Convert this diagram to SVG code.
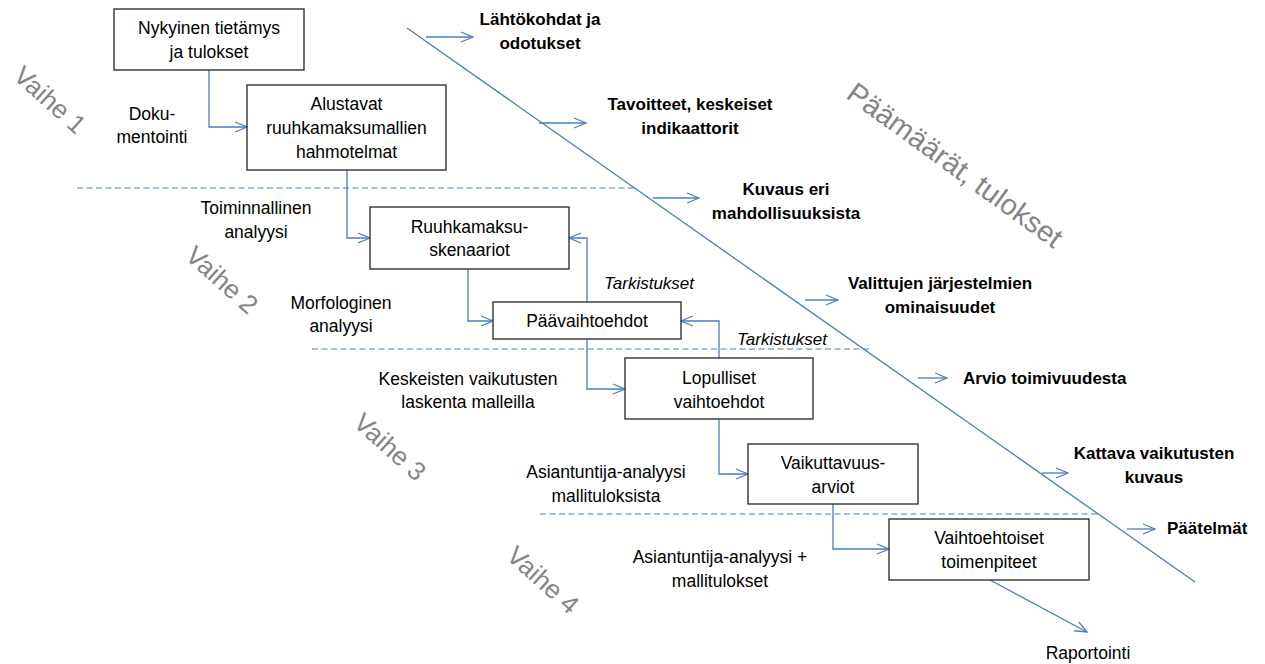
<svg xmlns="http://www.w3.org/2000/svg" width="1265" height="664" viewBox="0 0 1265 664">
<style>
text{font-family:"Liberation Sans",Arial,sans-serif;fill:#000;dominant-baseline:central}
.t{font-size:17.5px;text-anchor:middle}
.b{font-size:17px;font-weight:bold;text-anchor:middle}
.i{font-size:17px;font-style:italic;text-anchor:middle}
.ph{font-size:26px;fill:#858585;text-anchor:middle}
.box{fill:#fff;stroke:#333;stroke-width:1.4}
.c{fill:none;stroke:#4a7ebb;stroke-width:1.3}
.d{fill:none;stroke:#4a7ebb;stroke-width:1.2;stroke-dasharray:6 3.5}
</style>
<defs>
<marker id="ah" viewBox="0 0 14 12" refX="13" refY="6" markerWidth="14" markerHeight="12" markerUnits="userSpaceOnUse" orient="auto">
<path d="M1,1 L13,6 L1,11" fill="none" stroke="#4a7ebb" stroke-width="1.3"/>
</marker>
</defs>
<rect width="1265" height="664" fill="#fff"/>

<g id="phases">
<text class="ph" transform="translate(50,100) rotate(42)">Vaihe 1</text>
<text class="ph" transform="translate(222,280) rotate(42)">Vaihe 2</text>
<text class="ph" transform="translate(390,447) rotate(42)">Vaihe 3</text>
<text class="ph" transform="translate(543,580) rotate(42)">Vaihe 4</text>
<text class="ph" style="font-size:29px" transform="translate(955,165) rotate(36)">Päämäärät, tulokset</text>
</g>

<g id="separators">
<line class="d" x1="77" y1="188" x2="637" y2="188"/>
<line class="d" x1="312" y1="349" x2="870" y2="349"/>
<line class="d" x1="540" y1="514" x2="1097" y2="514"/>
</g>

<g id="connectors">
<line class="c" x1="407" y1="28" x2="1195" y2="582"/>
<line class="c" x1="426" y1="37" x2="473" y2="37" marker-end="url(#ah)"/>
<line class="c" x1="539" y1="123" x2="586" y2="123" marker-end="url(#ah)"/>
<line class="c" x1="653" y1="198" x2="699" y2="198" marker-end="url(#ah)"/>
<line class="c" x1="805" y1="300" x2="838" y2="300" marker-end="url(#ah)"/>
<line class="c" x1="918" y1="378" x2="947" y2="378" marker-end="url(#ah)"/>
<line class="c" x1="1042" y1="473" x2="1068" y2="473" marker-end="url(#ah)"/>
<line class="c" x1="1127" y1="529" x2="1155" y2="529" marker-end="url(#ah)"/>
<path class="c" d="M209,70 V127 H247" marker-end="url(#ah)"/>
<path class="c" d="M347,170 V238 H370" marker-end="url(#ah)"/>
<path class="c" d="M468,269 V321 H493" marker-end="url(#ah)"/>
<path class="c" d="M587,302 V238 H569" marker-end="url(#ah)"/>
<path class="c" d="M587,339 V389 H625" marker-end="url(#ah)"/>
<path class="c" d="M719,358 V321 H681" marker-end="url(#ah)"/>
<path class="c" d="M719,419 V474 H748" marker-end="url(#ah)"/>
<path class="c" d="M833,504 V549 H889" marker-end="url(#ah)"/>
<path class="c" d="M990,580 L1087,632" marker-end="url(#ah)"/>
</g>

<g id="n1"><rect class="box" x="114" y="9" width="190" height="61"/>
<text class="t" x="209" y="28">Nykyinen tietämys</text><text class="t" x="209" y="52">ja tulokset</text></g>
<g id="n2"><rect class="box" x="247" y="85" width="199" height="85"/>
<text class="t" x="346.5" y="104">Alustavat</text><text class="t" x="346.5" y="128">ruuhkamaksumallien</text><text class="t" x="346.5" y="152">hahmotelmat</text></g>
<g id="n3"><rect class="box" x="370" y="207" width="199" height="62"/>
<text class="t" x="469.5" y="227">Ruuhkamaksu-</text><text class="t" x="469.5" y="250">skenaariot</text></g>
<g id="n4"><rect class="box" x="493" y="302" width="188" height="37"/>
<text class="t" x="587" y="321">Päävaihtoehdot</text></g>
<g id="n5"><rect class="box" x="625" y="358" width="188" height="61"/>
<text class="t" x="719" y="378">Lopulliset</text><text class="t" x="719" y="402">vaihtoehdot</text></g>
<g id="n6"><rect class="box" x="748" y="444" width="170" height="60"/>
<text class="t" x="833" y="463">Vaikuttavuus-</text><text class="t" x="833" y="487">arviot</text></g>
<g id="n7"><rect class="box" x="889" y="519" width="200" height="61"/>
<text class="t" x="989" y="538">Vaihtoehtoiset</text><text class="t" x="989" y="562">toimenpiteet</text></g>

<g id="labels">
<text class="t" x="152" y="114">Doku-</text><text class="t" x="152" y="137">mentointi</text>
<text class="t" x="256" y="208">Toiminnallinen</text><text class="t" x="256" y="232">analyysi</text>
<text class="t" x="341" y="303">Morfologinen</text><text class="t" x="341" y="326">analyysi</text>
<text class="t" x="468" y="379">Keskeisten vaikutusten</text><text class="t" x="468" y="402">laskenta malleilla</text>
<text class="t" x="606" y="472">Asiantuntija-analyysi</text><text class="t" x="606" y="496">mallituloksista</text>
<text class="t" x="720" y="557">Asiantuntija-analyysi +</text><text class="t" x="720" y="581">mallitulokset</text>
<text class="t" x="1088" y="653">Raportointi</text>
<text class="i" x="649" y="283">Tarkistukset</text>
<text class="i" x="782" y="339">Tarkistukset</text>
</g>

<g id="outcomes">
<text class="b" x="540" y="19">Lähtökohdat ja</text><text class="b" x="540" y="43">odotukset</text>
<text class="b" x="690" y="104">Tavoitteet, keskeiset</text><text class="b" x="690" y="128">indikaattorit</text>
<text class="b" x="786" y="189">Kuvaus eri</text><text class="b" x="786" y="213">mahdollisuuksista</text>
<text class="b" x="940" y="283">Valittujen järjestelmien</text><text class="b" x="940" y="307">ominaisuudet</text>
<text class="b" x="963" y="378" style="text-anchor:start">Arvio toimivuudesta</text>
<text class="b" x="1154" y="453">Kattava vaikutusten</text><text class="b" x="1154" y="477">kuvaus</text>
<text class="b" x="1167" y="528" style="text-anchor:start">Päätelmät</text>
</g>
</svg>
